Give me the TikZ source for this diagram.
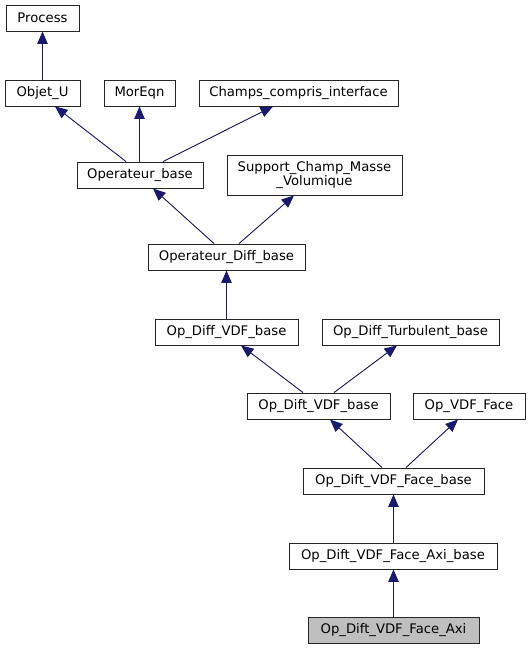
\documentclass[tikz,border=0pt]{standalone}
\usepackage{fontspec}
\setmainfont{DejaVu Sans}
\usetikzlibrary{arrows.meta,calc}
\definecolor{edgeblue}{RGB}{25,25,112}
\definecolor{curgray}{RGB}{191,191,191}

\begin{document}
\begin{tikzpicture}[x=1pt,y=-1pt,
		cls/.style={draw=black!85,line width=0.9pt,fill=white,minimum height=26,inner sep=0pt,font=\fontsize{13.2}{14.5}\selectfont,align=center},
		inh/.style={draw=edgeblue,line width=0.9pt,-{Triangle[length=12.5pt,width=10.5pt]},fill=edgeblue}]
		\useasboundingbox (0,0) rectangle (530,649);
		\node[cls,minimum width=73] (process) at (42.5,18) {Process};
		\node[cls,minimum width=75] (objetu) at (42.5,93) {Objet\_U};
		\node[cls,minimum width=71] (moreqn) at (139.5,93) {MorEqn};
		\node[cls,minimum width=199] (champs) at (298.5,93) {Champs\_compris\_interface};
		\node[cls,minimum width=126] (opbase) at (140,175) {Operateur\_base};
		\node[cls,minimum width=175,minimum height=40] (support) at (314.5,175) {Support\_Champ\_Masse\\\_Volumique};
		\node[cls,minimum width=157] (opdiff) at (226.5,257) {Operateur\_Diff\_base};
		\node[cls,minimum width=143] (diffvdf) at (226.5,332) {Op\_Diff\_VDF\_base};
		\node[cls,minimum width=177] (diffturb) at (410.5,332) {Op\_Diff\_Turbulent\_base};
		\node[cls,minimum width=143] (diftvdf) at (318.5,406) {Op\_Dift\_VDF\_base};
		\node[cls,minimum width=112] (vdfface) at (469,406) {Op\_VDF\_Face};
		\node[cls,minimum width=181] (faceb) at (393.5,481) {Op\_Dift\_VDF\_Face\_base};
		\node[cls,minimum width=208] (axib) at (393,556) {Op\_Dift\_VDF\_Face\_Axi\_base};
		\node[cls,minimum width=171,fill=curgray] (axi) at (393.5,630.5) {Op\_Dift\_VDF\_Face\_Axi};

		\draw[inh] (objetu.north) -- (process.south);
		\draw[inh] ($(opbase.north)+(-14,0)$) -- ($(objetu.south)+(12.5,0)$);
		\draw[inh] ($(opbase.north)+(-0.5,0)$) -- (moreqn.south);
		\draw[inh] ($(opbase.north)+(23,0)$) -- ($(champs.south)+(-25.5,0)$);
		\draw[inh] ($(opdiff.north)+(-12.5,0)$) -- ($(opbase.south)+(13,0)$);
		\draw[inh] ($(opdiff.north)+(12.5,0)$) -- ($(support.south)+(-20.5,0)$);
		\draw[inh] (diffvdf.north) -- (opdiff.south);
		\draw[inh] ($(diftvdf.north)+(-15.5,0)$) -- ($(diffvdf.south)+(14.5,0)$);
		\draw[inh] ($(diftvdf.north)+(15.5,0)$) -- ($(diffturb.south)+(-13.5,0)$);
		\draw[inh] ($(faceb.north)+(-11.5,0)$) -- ($(diftvdf.south)+(11.5,0)$);
		\draw[inh] ($(faceb.north)+(12.5,0)$) -- ($(vdfface.south)+(-11,0)$);
		\draw[inh] ($(axib.north)+(0.5,0)$) -- (faceb.south);
		\draw[inh] (axi.north) -- ($(axib.south)+(0.5,0)$);
	\end{tikzpicture}
\end{document}
